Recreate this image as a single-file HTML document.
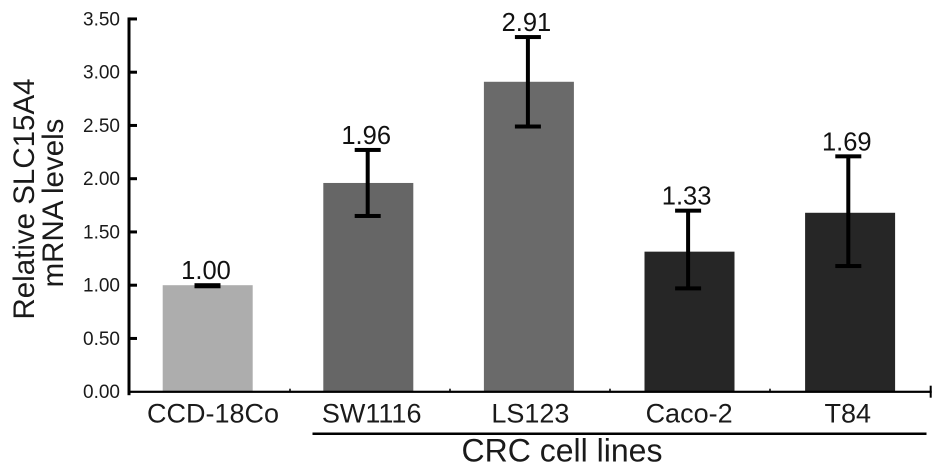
<!DOCTYPE html>
<html lang="en">
<head>
<meta charset="utf-8">
<title>Relative SLC15A4 mRNA levels</title>
<style>
html,body{margin:0;padding:0;background:#fff;}
svg{display:block;font-family:"Liberation Sans",Arial,sans-serif;}
</style>
</head>
<body>
<svg id="chart" width="945" height="476" viewBox="0 0 945 476" xmlns="http://www.w3.org/2000/svg">
  <text transform="translate(34,199) rotate(-90)" font-size="29.5" text-anchor="middle" fill="#1a1a1a">Relative SLC15A4</text>
  <text transform="translate(63,203) rotate(-90)" font-size="29.5" text-anchor="middle" fill="#1a1a1a">mRNA levels</text>
  <rect x="312.5" y="432.5" width="614" height="2.5" fill="#000"/>
  <text x="562" y="461.5" font-size="32" text-anchor="middle" fill="#1a1a1a">CRC cell lines</text>
</svg>
<script>
const categories = ['CCD-18Co', 'SW1116', 'LS123', 'Caco-2', 'T84'];
const barValues = [1.00, 1.96, 2.91, 1.315, 1.68];
const printedValues = ['1.00', '1.96', '2.91', '1.33', '1.69'];
const errorUpper = [1.00, 2.27, 3.33, 1.70, 2.21];
const errorLower = [0.99, 1.65, 2.49, 0.97, 1.18];
const barColors = ['#adadad', '#666666', '#6a6a6a', '#262626', '#262626'];
const yTicks = [0, 0.5, 1, 1.5, 2, 2.5, 3, 3.5];

const NS = 'http://www.w3.org/2000/svg';
const svg = document.getElementById('chart');

const plotLeft = 129;
const plotRight = 931.7;
const baseY = 391.7;
const unitPx = 106.5;

function yScale(v) { return baseY - v * unitPx; }
function barCenter(i) { return 207.7 + 160.6 * i; }
function errorCenter(i) { return 207.5 + 160.2 * i; }
function valueCenter(i) { return 206 + 160.2 * i; }
function labelCenter(i) { return 213 + 158.7 * i; }
function tickX(i) { return 290 + 160 * i; }

function make(tag, attrs, text) {
  const el = document.createElementNS(NS, tag);
  for (const k in attrs) el.setAttribute(k, attrs[k]);
  if (text !== undefined) el.textContent = text;
  svg.appendChild(el);
  return el;
}

categories.forEach(function (cat, i) {
  const bx = barCenter(i);
  const ex = errorCenter(i);
  const top = yScale(barValues[i]);

  const bar = make('rect', { x: bx - 45, y: top, width: 90, height: baseY - top, fill: barColors[i] });
  
  

  const yU = yScale(errorUpper[i]);
  const yL = yScale(errorLower[i]);

  const stem = make('rect', { x: ex - 2, y: yU, width: 4, height: yL - yU, fill: '#000' });
  
  

  const capTop = make('rect', { x: ex - 13, y: yU - 2, width: 26, height: 4, fill: '#000' });
  
  

  const capBottom = make('rect', { x: ex - 13, y: yL - 2, width: 26, height: 4, fill: '#000' });
  
  

  const valueLabel = make('text', { x: valueCenter(i), y: yU - 6, 'font-size': 25.5, 'text-anchor': 'middle', fill: '#111' }, printedValues[i]);
  
  

  const catLabel = make('text', { x: labelCenter(i), y: 422.5, 'font-size': 27, 'text-anchor': 'middle', fill: '#1a1a1a' }, cat);
  
  

  if (i < categories.length - 1) {
    const xTick = make('rect', { x: tickX(i) - 0.75, y: baseY - 3, width: 1.5, height: 3, fill: '#000' });
    
    
  }
});

const yAxis = make('rect', { x: plotLeft - 1.5, y: yScale(3.5) - 1.5, width: 3, height: baseY - yScale(3.5) + 5, fill: '#000' });



const xAxis = make('rect', { x: plotLeft, y: baseY - 1, width: plotRight - plotLeft, height: 2.2, fill: '#000' });



const xEndTick = make('rect', { x: plotRight - 2, y: baseY - 6, width: 2, height: 12, fill: '#000' });



yTicks.forEach(function (t) {
  const y = yScale(t);
  if (t > 0) {
    const tick = make('rect', { x: plotLeft, y: y - 1.5, width: 8, height: 3, fill: '#000' });
    
    
  }
  const label = make('text', { x: 120, y: y + 6.5, 'font-size': 19, 'text-anchor': 'end', fill: '#1a1a1a' }, t.toFixed(2));
  
  
});
</script>
</body>
</html>
